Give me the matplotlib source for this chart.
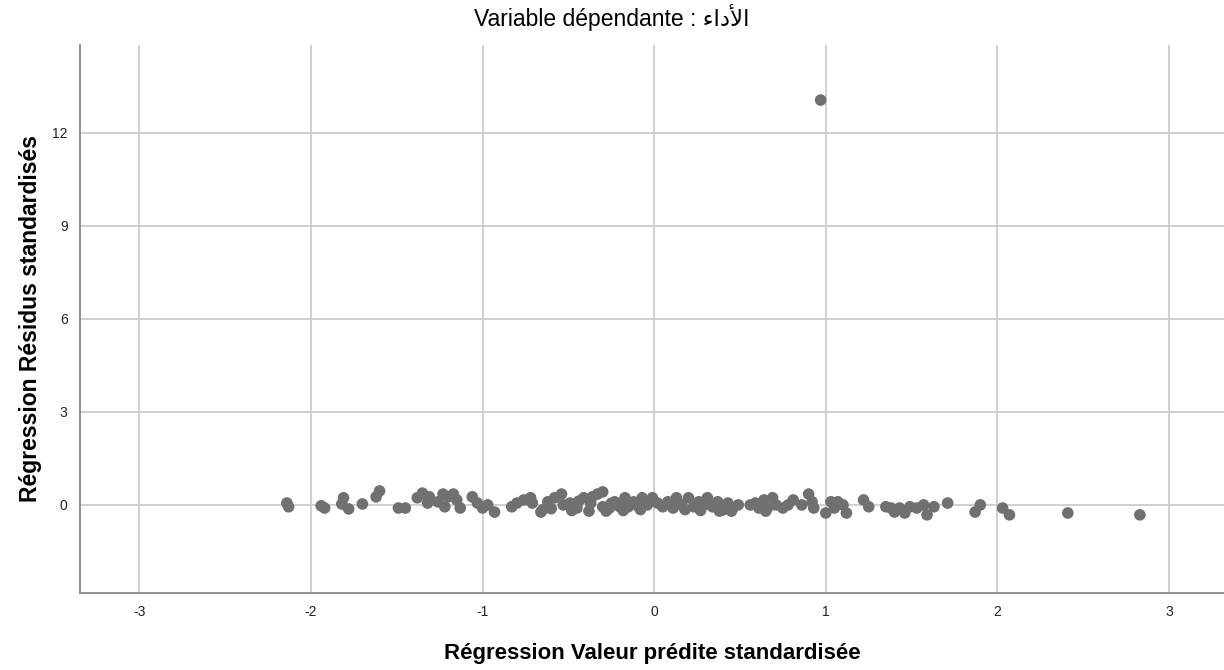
import numpy as np
import matplotlib
matplotlib.use("Agg")
import matplotlib.pyplot as plt

# standardized predicted values (x) and standardized residuals (y)
pred = [
    -2.14, -2.13, -1.94, -1.92, -1.81, -1.82, -1.78, -1.70, -1.62, -1.60, -1.49, -1.45,
    -1.38, -1.35, -1.32, -1.31, -1.26, -1.23, -1.22, -1.20, -1.17, -1.15, -1.13, -1.06,
    -1.03, -1.00, -0.97, -0.93, -0.83, -0.80, -0.76, -0.72, -0.71, -0.66,
    -0.65, -0.62, -0.58, -0.54, -0.53, -0.49, -0.45, -0.41, -0.37, -0.36, -0.33, -0.30,
    -0.30, -0.26, -0.23, -0.20, -0.17, -0.15, -0.12, -0.09, -0.07, -0.04, -0.01, 0.02,
    0.05, 0.08, 0.11, -0.48, -0.38, -0.28, -0.18, -0.08, -0.60, -0.44, -0.25,
    0.13, 0.16, 0.20, 0.23, 0.26, 0.29, 0.31, 0.34, 0.37, 0.40, 0.43, 0.46, 0.49,
    0.56, 0.59, 0.61, 0.64, 0.66, 0.69, 0.71, 0.75, 0.78, 0.81, 0.86, 0.90,
    0.18, 0.27, 0.38, 0.45, 0.65,
    0.92, 0.93, 1.00, 1.03, 1.05, 1.07, 1.10, 1.12, 1.22, 1.25, 1.35, 1.38, 1.40,
    1.43, 1.46, 1.49, 1.53, 1.57, 1.59, 1.63, 1.71,
    1.87, 1.90, 2.03, 2.07, 2.41, 2.83,
    0.97,
]
resid = [
    0.06, -0.06, -0.03, -0.10, 0.23, 0.03, -0.13, 0.03, 0.26, 0.45, -0.10, -0.10,
    0.23, 0.38, 0.06, 0.26, 0.10, 0.35, -0.06, 0.26, 0.35, 0.16, -0.10, 0.26,
    0.06, -0.10, 0.00, -0.23, -0.06, 0.06, 0.16, 0.23, 0.06, -0.23,
    -0.16, 0.10, 0.23, 0.35, 0.00, 0.06, -0.10, 0.23, 0.06, 0.26, 0.35, 0.42,
    -0.06, -0.10, 0.10, -0.06, 0.23, -0.06, 0.10, -0.06, 0.23, 0.00, 0.23, 0.06,
    -0.06, 0.10, -0.10, -0.18, -0.20, -0.20, -0.18, -0.15, -0.12, 0.12, 0.05,
    0.23, 0.00, 0.23, -0.06, 0.10, 0.00, 0.23, -0.06, 0.10, -0.16, 0.06, -0.10, 0.00,
    0.00, 0.06, -0.10, 0.16, -0.10, 0.23, 0.00, -0.10, 0.00, 0.16, 0.00, 0.35,
    -0.15, -0.18, -0.20, -0.20, -0.20,
    0.10, -0.10, -0.26, 0.10, -0.10, 0.10, 0.00, -0.26, 0.16, -0.06, -0.06, -0.10, -0.23,
    -0.10, -0.26, -0.06, -0.10, 0.00, -0.32, -0.06, 0.06,
    -0.23, 0.00, -0.10, -0.32, -0.26, -0.32,
    13.06,
]

xticks = [-3, -2, -1, 0, 1, 2, 3]
yticks = [0, 3, 6, 9, 12]

fam = ['Liberation Sans', 'DejaVu Sans']
plt.rcParams['font.family'] = fam
plt.rcParams['axes.unicode_minus'] = False

fig = plt.figure(figsize=(12.24, 6.70), dpi=100)
ax = fig.add_axes([0.0654, 0.115, 0.9346, 0.818])

ax.scatter(pred, resid, s=70, color='#707070', edgecolors='none', zorder=3)

ax.set_xlim(-3.345, 3.32)
ax.set_ylim(-2.84, 14.84)
ax.set_xticks(xticks)
ax.set_yticks(yticks)
ax.grid(True, color='#cccccc', linewidth=1.3)
ax.set_axisbelow(True)
ax.tick_params(length=0, labelsize=10, labelcolor='#222222', pad=9)

for s in ['top', 'right']:
    ax.spines[s].set_visible(False)
for s in ['left', 'bottom']:
    ax.spines[s].set_color('#888888')
    ax.spines[s].set_linewidth(1.3)

ax.set_xlabel('Régression Valeur prédite standardisée', fontsize=16,
              fontweight='bold', labelpad=17)
ax.set_ylabel('Régression Résidus standardisés', fontsize=16.5,
              fontweight='bold', labelpad=7)

arabic = '\uFE80\uFE8D\uFEA9\uFEF7\uFE8D'
fig.text(0.5, 0.974, 'Variable dépendante : ' + arabic, ha='center', va='center',
         fontsize=16.5, family=fam)

fig.savefig('out.png', dpi=100)
